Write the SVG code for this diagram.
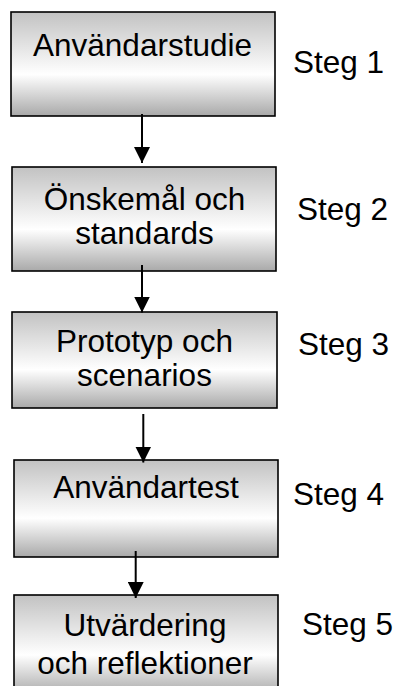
<svg xmlns="http://www.w3.org/2000/svg" width="395" height="686" viewBox="0 0 395 686">
  <defs>
    <linearGradient id="boxFill" x1="0" y1="0" x2="0" y2="1">
      <stop offset="0" stop-color="#c2c2c2"/>
      <stop offset="0.6" stop-color="#ffffff"/>
      <stop offset="1" stop-color="#a9a9a9"/>
    </linearGradient>
    <marker id="arrowHead" markerUnits="userSpaceOnUse" markerWidth="16" markerHeight="16" viewBox="0 0 16 16" refX="16" refY="8" orient="auto">
      <path d="M0,0 L16,8 L0,16 Z" fill="#000"/>
    </marker>
  </defs>
  <style>
    .box { fill: url(#boxFill); stroke: #000; stroke-width: 1.6; }
    .label { font-family: "Liberation Sans", Arial, sans-serif; font-size: 31.5px; fill: #000; }
    .center { text-anchor: middle; }
    .conn { stroke: #000; stroke-width: 2; fill: none; marker-end: url(#arrowHead); }
  </style>
  <rect width="395" height="686" fill="#fff"/>

  <g id="step1">
    <rect class="box" x="11" y="12" width="264" height="104"/>
    <text class="label center" x="142.5" y="55.5">Användarstudie</text>
    <text class="label" x="293" y="72.5">Steg 1</text>
  </g>

  <g id="step2">
    <rect class="box" x="12" y="167" width="264" height="104"/>
    <text class="label center" x="144.5" y="210">Önskemål och</text>
    <text class="label center" x="144.5" y="244">standards</text>
    <text class="label" x="297" y="220">Steg 2</text>
  </g>

  <g id="step3">
    <rect class="box" x="12" y="312" width="265" height="96"/>
    <text class="label center" x="144.5" y="352">Prototyp och</text>
    <text class="label center" x="144.5" y="385.5">scenarios</text>
    <text class="label" x="298" y="355">Steg 3</text>
  </g>

  <g id="step4">
    <rect class="box" x="14" y="460" width="264" height="97"/>
    <text class="label center" x="146" y="498">Användartest</text>
    <text class="label" x="293" y="505">Steg 4</text>
  </g>

  <g id="step5">
    <rect class="box" x="14" y="595" width="264" height="100"/>
    <text class="label center" x="145" y="636">Utvärdering</text>
    <text class="label center" x="145" y="674">och reflektioner</text>
    <text class="label" x="302" y="635">Steg 5</text>
  </g>

  <g id="connectors">
    <line class="conn" x1="142" y1="114" x2="142" y2="163"/>
    <line class="conn" x1="142" y1="265" x2="142" y2="312.5"/>
    <line class="conn" x1="143.3" y1="414" x2="143.3" y2="462.5"/>
    <line class="conn" x1="135.7" y1="551" x2="135.7" y2="598"/>
  </g>
</svg>
